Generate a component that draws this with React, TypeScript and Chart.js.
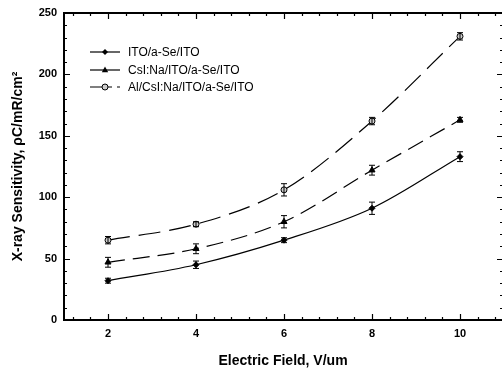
import React, { useEffect, useRef } from 'react';
import { Chart, registerables } from 'chart.js';

Chart.register(...registerables);

const fields = [2, 4, 6, 8, 10];
const itoValues = [32, 45, 65, 91, 133];
const itoErrors = [2, 3, 2, 5, 4];
const csiValues = [47, 58, 80, 122, 163];
const csiErrors = [4, 4, 5, 4, 2];
const alValues = [65, 78, 106, 162, 231];
const alErrors = [3, 2, 5, 3, 3];
const seriesLabels = ['ITO/a-Se/ITO', 'CsI:Na/ITO/a-Se/ITO', 'Al/CsI:Na/ITO/a-Se/ITO'];
const xTickValues = [2, 4, 6, 8, 10];
const yTickValues = [0, 50, 100, 150, 200, 250];
const xTitle = 'Electric Field, V/um';
const yTitle = 'X-ray Sensitivity, ρC/mR/cm²';

const allValues = [itoValues, csiValues, alValues];
const allErrors = [itoErrors, csiErrors, alErrors];
const dashes = [[], [17, 8], [22, 9]];
const markers = ['rectRot', 'triangle', 'circle'];

const FONT = '"Liberation Sans", Arial, sans-serif';
const CANVAS_W = 509;

function drawMarker(ctx: CanvasRenderingContext2D, kind: string, x: number, y: number) {
  ctx.save();
  ctx.setLineDash([]);
  ctx.strokeStyle = '#000';
  ctx.fillStyle = '#000';
  ctx.lineWidth = 1;
  ctx.beginPath();
  if (kind === 'rectRot') {
    ctx.moveTo(x, y - 3);
    ctx.lineTo(x + 3, y);
    ctx.lineTo(x, y + 3);
    ctx.lineTo(x - 3, y);
    ctx.closePath();
    ctx.fill();
  } else if (kind === 'triangle') {
    ctx.moveTo(x, y - 3.5);
    ctx.lineTo(x + 3.2, y + 2.2);
    ctx.lineTo(x - 3.2, y + 2.2);
    ctx.closePath();
    ctx.fill();
  } else {
    ctx.fillStyle = '#ccc';
    ctx.arc(x, y, 3, 0, Math.PI * 2);
    ctx.fill();
    ctx.stroke();
  }
  ctx.restore();
}

const framePlugin = {
  id: 'frame',
  afterDatasetsDraw(chart: any) {
    const { ctx, scales } = chart;
    const x = scales.x;
    const y = scales.y;
    ctx.save();
    ctx.strokeStyle = '#000';
    ctx.lineWidth = 1;
    ctx.setLineDash([]);
    allValues.forEach((vals, di) => {
      vals.forEach((v, i) => {
        const e = allErrors[di][i];
        const px = x.getPixelForValue(fields[i]);
        const t = y.getPixelForValue(v + e);
        const b = y.getPixelForValue(v - e);
        ctx.beginPath();
        ctx.moveTo(px, t);
        ctx.lineTo(px, b);
        ctx.moveTo(px - 3, t);
        ctx.lineTo(px + 3, t);
        ctx.moveTo(px - 3, b);
        ctx.lineTo(px + 3, b);
        ctx.stroke();
      });
    });
    ctx.restore();
  },
  afterDraw(chart: any) {
    const { ctx, chartArea, scales } = chart;
    const { left, right, top, bottom } = chartArea;
    const x = scales.x;
    const y = scales.y;
    ctx.save();
    ctx.strokeStyle = '#000';
    ctx.setLineDash([]);
    ctx.lineWidth = 2;
    ctx.beginPath();
    ctx.moveTo(right, top);
    ctx.lineTo(left, top);
    ctx.lineTo(left, bottom);
    ctx.lineTo(right, bottom);
    ctx.stroke();

    ctx.lineWidth = 1.2;
    ctx.beginPath();
    for (let i = 3; i <= 27; i++) {
      const v = i * 0.4;
      const px = Math.round(x.getPixelForValue(v)) + 0.5;
      if (px > right) break;
      const len = i % 5 === 0 ? 6 : 3;
      ctx.moveTo(px, bottom);
      ctx.lineTo(px, bottom - len);
      ctx.moveTo(px, top);
      ctx.lineTo(px, top + len);
    }
    for (let v = 10; v < 250; v += 10) {
      const py = Math.round(y.getPixelForValue(v)) + 0.5;
      const len = v % 50 === 0 ? 6 : 3;
      ctx.moveTo(left, py);
      ctx.lineTo(left + len, py);
      ctx.moveTo(right - 1, py);
      ctx.lineTo(right - 1 - len, py);
    }
    ctx.stroke();

    // legend
    const rows = [52, 70, 87];
    ctx.font = `12px ${FONT}`;
    ctx.fillStyle = '#000';
    ctx.textBaseline = 'middle';
    ctx.textAlign = 'left';
    seriesLabels.forEach((label, i) => {
      const ry = rows[i];
      ctx.save();
      ctx.lineWidth = 1.2;
      ctx.setLineDash(i === 2 ? [22, 5] : []);
      ctx.beginPath();
      ctx.moveTo(90, ry);
      ctx.lineTo(120, ry);
      ctx.stroke();
      ctx.restore();
      drawMarker(ctx, markers[i], 105, ry);
      ctx.fillText(label, 128, ry + 1);
    });

    // titles
    ctx.font = `bold 14px ${FONT}`;
    ctx.textAlign = 'center';
    ctx.textBaseline = 'middle';
    ctx.fillText(xTitle, 283, 361);
    ctx.save();
    ctx.translate(18, (top + bottom) / 2);
    ctx.rotate(-Math.PI / 2);
    ctx.fillText(yTitle, 0, 0);
    ctx.restore();
    ctx.restore();
  },
};

export default function App() {
  const ref = useRef<HTMLCanvasElement | null>(null);
  useEffect(() => {
    document.body.style.margin = '0';
    document.body.style.overflow = 'hidden';
    const canvas = ref.current;
    if (!canvas) return;
    const datasets = allValues.map((vals, i) => ({
      label: seriesLabels[i],
      data: vals.map((v, j) => ({ x: fields[j], y: v })),
      borderColor: '#000',
      backgroundColor: i === 2 ? '#ccc' : '#000',
      borderWidth: 1.2,
      borderDash: dashes[i],
      pointStyle: markers[i] as any,
      pointRadius: i === 1 ? 3.5 : 3,
      pointBorderWidth: 1,
      pointBorderColor: '#000',
      pointBackgroundColor: i === 2 ? '#ccc' : '#000',
      cubicInterpolationMode: 'monotone' as const,
      fill: false,
    }));
    const chart = new Chart(canvas, {
      type: 'line',
      data: { datasets },
      options: {
        animation: false,
        responsive: false,
        maintainAspectRatio: false,
        layout: { padding: { top: 13, left: 0, right: 0, bottom: 0 } },
        plugins: { legend: { display: false }, tooltip: { enabled: false } },
        scales: {
          x: {
            type: 'linear',
            min: 1,
            max: 11,
            afterBuildTicks: (s: any) => {
              s.ticks = xTickValues.map((v) => ({ value: v }));
            },
            afterFit: (s: any) => {
              s.height = 50;
              s.paddingLeft = 0;
              s.paddingRight = 0;
            },
            ticks: { color: '#000', padding: 7, font: { family: FONT, size: 11, weight: 'bold' } },
            grid: { display: false, drawTicks: false },
            border: { display: false },
          },
          y: {
            type: 'linear',
            min: 0,
            max: 250,
            afterBuildTicks: (s: any) => {
              s.ticks = yTickValues.map((v) => ({ value: v }));
            },
            afterFit: (s: any) => {
              s.width = 64;
              s.paddingTop = 0;
              s.paddingBottom = 0;
            },
            ticks: { color: '#000', padding: 7, font: { family: FONT, size: 11, weight: 'bold' } },
            grid: { display: false, drawTicks: false },
            border: { display: false },
          },
        },
      },
      plugins: [framePlugin],
    });
    return () => chart.destroy();
  }, []);
  return (
    <div style={{ width: 502, height: 370, overflow: 'hidden' }}>
      <canvas ref={ref} width={CANVAS_W} height={370} style={{ display: 'block' }} />
    </div>
  );
}
